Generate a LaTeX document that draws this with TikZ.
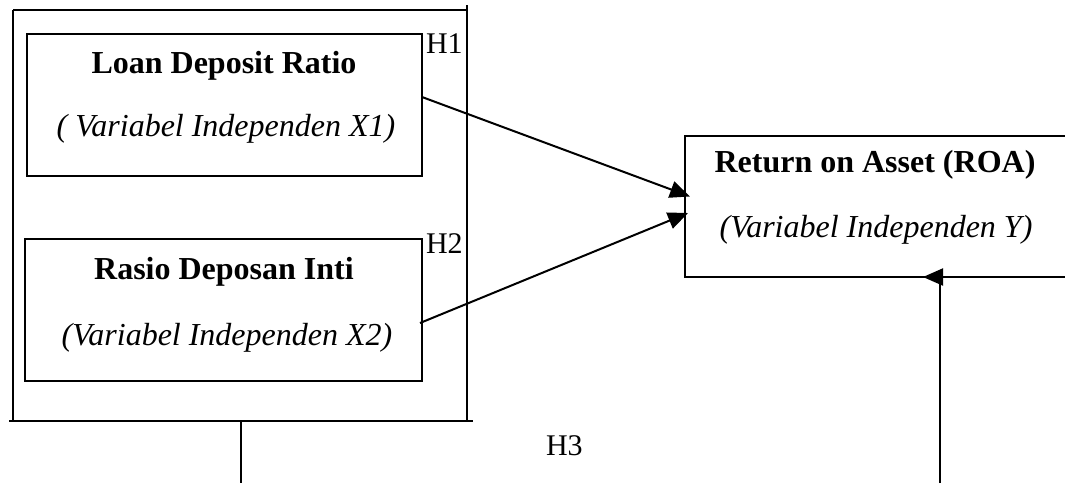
\documentclass[tikz,border=0pt]{standalone}
\usepackage{fontspec}
\setmainfont{Liberation Serif}
\usetikzlibrary{arrows.meta,positioning,calc}

\begin{document}
\begin{tikzpicture}[x=1pt,y=-1pt,
  line width=2pt,
  frame/.style={draw=none,rectangle,inner sep=0pt,outer sep=0pt},
  varbox/.style={draw,rectangle,inner sep=0pt,outer sep=0pt},
  title/.style={anchor=base,inner sep=0pt,font=\fontsize{32}{38}\selectfont\bfseries},
  subtitle/.style={anchor=base,inner sep=0pt,font=\fontsize{32}{38}\selectfont\itshape},
  hyp/.style={anchor=base west,inner sep=0pt,font=\fontsize{30}{36}\selectfont},
  arr/.style={-{Triangle[length=20pt,width=17pt]}}
]
\useasboundingbox (0,0) rectangle (1065,483);

% group frame around the two independent variables
\node[frame,minimum width=454pt,minimum height=411pt] (grp) at (240,215.5) {};
\draw (grp.north west) -- (grp.north east);
\draw ([yshift=5pt]grp.north east) -- (grp.south east);
\draw ([xshift=-4pt]grp.south west) -- ([xshift=6pt]grp.south east);
\draw (grp.north west) -- (grp.south west);

% independent variables
\node[varbox,minimum width=395pt,minimum height=142pt] (ldr) at (224.5,105) {};
\node[title] (ldrT) at (224,73) {Loan Deposit Ratio};
\node[subtitle] (ldrS) at (226,136) {( Variabel Independen X1)};

\node[varbox,minimum width=397pt,minimum height=142pt] (rdi) at (223.5,310) {};
\node[title] (rdiT) at (224,279) {Rasio Deposan Inti};
\node[subtitle] (rdiS) at (227,345) {(Variabel Independen X2)};

% dependent variable, open towards the right edge
\node[frame,minimum width=380pt,minimum height=141pt] (roa) at (875,206.5) {};
\draw (roa.north east) -- (roa.north west) -- (roa.south west) -- (roa.south east);
\node[title] (roaT) at (875,172) {Return on Asset (ROA)};
\node[subtitle] (roaS) at (876,237) {(Variabel Independen Y)};

% hypothesis labels
\node[hyp] (h1) at (425,53) {H1};
\node[hyp] (h2) at (425,253) {H2};
\node[hyp] (h3) at (545,455) {H3};

% hypothesis connectors
\draw[arr] ([yshift=8pt]ldr.east) -- ([xshift=5pt,yshift=10pt]roa.west);
\draw[arr] ([xshift=-2pt,yshift=-13pt]rdi.east) -- ([xshift=3pt,yshift=-6.5pt]roa.west);

\coordinate (h3l) at (241,483);
\coordinate (h3r) at (940,483);
\draw (grp.south -| h3l) -- (h3l);
\draw[arr] (h3r) |- ([xshift=238pt]roa.south west);
\end{tikzpicture}
\end{document}
